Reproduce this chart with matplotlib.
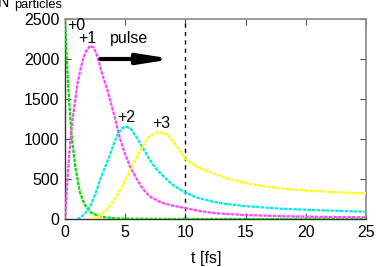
import matplotlib
matplotlib.use("Agg")
import matplotlib.pyplot as plt

plt.rcParams['font.family'] = ['Liberation Sans', 'DejaVu Sans']

# ---- data ----
t0 = [0, 0.1, 0.25, 0.42, 0.58, 0.83, 1.1, 1.25, 1.52, 1.8, 2.08, 2.35, 2.8, 3.2, 4.0, 5.0, 7.0, 10, 15, 20, 25]
n0 = [2500, 2150, 1700, 1300, 1000, 680, 446, 330, 220, 140, 91, 65, 40, 25, 10, 4, 1, 0, 0, 0, 0]

t1 = [0, 0.17, 0.36, 0.58, 0.86, 1.05, 1.27, 1.5, 1.75, 2.1, 2.4, 2.7, 3.07, 3.5, 3.9, 4.25, 4.6, 5.0, 5.4, 6.0, 6.5, 7.06, 8.0, 9.0, 10.0, 11.0, 12.3, 13.5, 15.0, 18.0, 21.0, 25.0]
n1 = [0, 420, 830, 1180, 1500, 1700, 1862, 2000, 2100, 2166, 2140, 2030, 1821, 1620, 1404, 1200, 987, 810, 654, 490, 370, 279, 205, 165, 137, 105, 75, 62, 50, 35, 27, 21]

t2 = [1.0, 1.25, 1.5, 1.8, 2.08, 2.5, 2.9, 3.3, 3.74, 4.1, 4.43, 4.8, 5.12, 5.5, 6.0, 6.5, 7.06, 7.5, 8.0, 9.0, 10.0, 11.0, 12.3, 13.5, 15.1, 17.9, 20.6, 23.0, 25.0]
n2 = [0, 15, 45, 95, 154, 300, 487, 640, 800, 960, 1074, 1140, 1154, 1120, 1010, 880, 737, 640, 560, 420, 330, 265, 216, 185, 160, 129, 112, 100, 91]

t3 = [2.0, 2.5, 2.9, 3.5, 4.29, 5.0, 5.67, 6.5, 7.0, 7.75, 8.5, 9.0, 9.5, 10.0, 11.0, 12.3, 13.5, 15.1, 16.5, 17.9, 20.6, 22.5, 25.0]
n3 = [0, 12, 40, 120, 279, 480, 696, 925, 1030, 1091, 1055, 970, 860, 750, 650, 571, 505, 446, 410, 383, 350, 335, 320]

xticks = [0, 5, 10, 15, 20, 25]
yticks = [0, 500, 1000, 1500, 2000, 2500]

fig = plt.figure(figsize=(3.82, 2.67), dpi=100)
ax = fig.add_axes([65/382, 1-219/267, (366-65)/382, (219-19)/267])

ls = (0, (1.6, 0.5))
lw = 1.6
ax.plot(t0, n0, color='#00e000', lw=lw, ls=ls, zorder=3)
ax.plot(t1, n1, color='#ff44ff', lw=lw, ls=ls, zorder=3)
ax.plot(t2, n2, color='#00e8e8', lw=lw, ls=ls, zorder=3)
ax.plot(t3, n3, color='#ffff00', lw=lw, ls=ls, zorder=3)

ax.axvline(10, color='black', lw=1.0, ls=(0, (3, 3)), zorder=2)

ax.set_xlim(0, 25)
ax.set_ylim(0, 2500)
ax.set_xticks(xticks)
ax.set_yticks(yticks)
ax.tick_params(direction='in', length=4, width=0.8, top=True, right=True,
               labelsize=11.5, color='#555555', pad=4)
for s in ['top', 'right']:
    ax.spines[s].set_color('#888888')
    ax.spines[s].set_linewidth(1.2)
for s in ['left', 'bottom']:
    ax.spines[s].set_color('#333333')
    ax.spines[s].set_linewidth(1.0)

fs = 11.5
ax.text(0.9, 2425, '+0', fontsize=fs, ha='center', va='center')
ax.text(1.83, 2262, '+1', fontsize=fs, ha='center', va='center')
ax.text(5.3, 2250, 'pulse', fontsize=fs, ha='center', va='center')
ax.text(5.07, 1275, '+2', fontsize=fs, ha='center', va='center')
ax.text(8.0, 1200, '+3', fontsize=fs, ha='center', va='center')
ax.annotate('', xy=(8.95, 2000), xytext=(2.95, 2000),
            arrowprops=dict(arrowstyle='-|>,head_length=1.9,head_width=0.3',
                            lw=3, color='black', mutation_scale=10,
                            shrinkA=0, shrinkB=0))

fig.text(-2/382, 1-7/267, 'N', fontsize=fs, ha='left', va='baseline')
fig.text(14/382, 1-8/267, 'particles', fontsize=9.3, ha='left', va='baseline')
fig.text(206/382, 1-258/267, 't [fs]', fontsize=fs, ha='center', va='center')

fig.savefig('out.png', dpi=100)
